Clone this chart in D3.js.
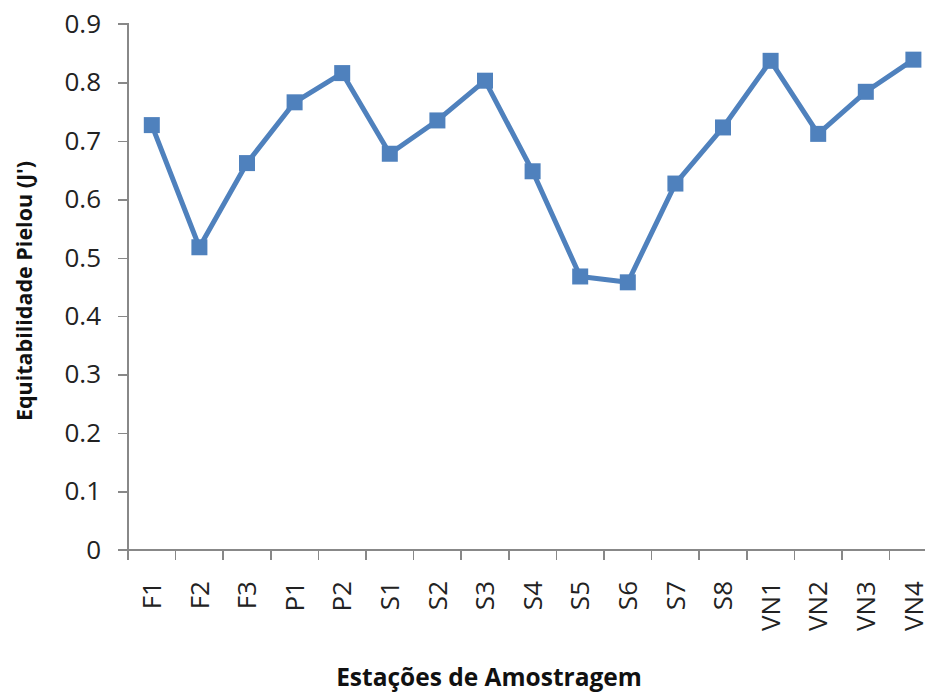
<!DOCTYPE html>
<html lang="pt">
<head>
<meta charset="UTF-8">
<title>Equitabilidade Pielou</title>
<style>
  body { margin: 0; background: #fff; }
  svg { display: block; }
  .axis text { font-family: 'Open Sans', sans-serif; font-size: 26px; fill: #222; }
  .axis path, .axis line { stroke: #888; stroke-width: 1.5; shape-rendering: crispEdges; }
  .title { font-family: 'Open Sans', sans-serif; font-weight: bold; fill: #111; }
</style>
</head>
<body>
<div id="chart"></div>
<script src="https://d3js.org/d3.v7.min.js"></script>
<script>
// estações de amostragem
const stations = ["F1", "F2", "F3", "P1", "P2", "S1", "S2", "S3", "S4",
                  "S5", "S6", "S7", "S8", "VN1", "VN2", "VN3", "VN4"];
// J' de Pielou
const pielou = [0.727, 0.518, 0.662, 0.766, 0.816, 0.678, 0.735, 0.803, 0.648,
                0.468, 0.458, 0.627, 0.723, 0.837, 0.712, 0.784, 0.839];
const yTicks = [0, 0.1, 0.2, 0.3, 0.4, 0.5, 0.6, 0.7, 0.8, 0.9];

const W = 925, H = 693;
const plotLeft = 128, plotTop = 24, plotBottom = 550;
const bandW = 47.6;

const svg = d3.select('#chart').append('svg')
    .attr('width', W).attr('height', H);

const x = d3.scaleBand()
    .domain(stations)
    .range([plotLeft, plotLeft + bandW * stations.length]);

const y = d3.scaleLinear()
    .domain([0, 0.9])
    .range([plotBottom, plotTop]);

// eixo y
svg.append('g')
    .attr('class', 'axis')
    .attr('transform', `translate(${plotLeft},0)`)
    .call(d3.axisLeft(y).tickValues(yTicks).tickSize(10).tickPadding(17)
        .tickFormat(d => d === 0 ? '0' : d3.format('.1f')(d)))
    .call(g => g.select('.domain').attr('d', `M-10,${plotTop}H0V${plotBottom}H-10`));

// eixo x - ticks nas fronteiras das categorias
const xAxis = svg.append('g')
    .attr('class', 'axis')
    .attr('transform', `translate(0,${plotBottom})`);

xAxis.append('line')
    .attr('x1', plotLeft).attr('x2', W)
    .attr('y1', 0).attr('y2', 0);

xAxis.selectAll('.tk')
    .data(stations)
    .enter().append('line')
    .attr('class', 'tk')
    .attr('x1', d => x(d)).attr('x2', d => x(d))
    .attr('y1', 0).attr('y2', 10);

xAxis.selectAll('.lbl')
    .data(stations)
    .enter().append('text')
    .attr('class', 'lbl')
    .attr('text-anchor', 'end')
    .attr('dy', '0.35em')
    .attr('transform', d => `translate(${x(d) + x.bandwidth() / 2},${31}) rotate(-90)`)
    .text(d => d);

// linha
const line = d3.line()
    .x((d, i) => x(stations[i]) + x.bandwidth() / 2)
    .y(d => y(d));

svg.append('path')
    .datum(pielou)
    .attr('fill', 'none')
    .attr('stroke', '#4F81BD')
    .attr('stroke-width', 5)
    .attr('stroke-linejoin', 'round')
    .attr('d', line);

const ms = 16;
svg.selectAll('.marker')
    .data(pielou)
    .enter().append('rect')
    .attr('class', 'marker')
    .attr('x', (d, i) => x(stations[i]) + x.bandwidth() / 2 - ms / 2)
    .attr('y', d => y(d) - ms / 2)
    .attr('width', ms).attr('height', ms)
    .attr('fill', '#4F81BD');

// títulos
svg.append('text')
    .attr('class', 'title')
    .attr('font-size', 21.5)
    .attr('text-anchor', 'middle')
    .attr('transform', `translate(32,291) rotate(-90)`)
    .text("Equitabilidade Pielou (J')");

svg.append('text')
    .attr('class', 'title')
    .attr('font-size', 24.5)
    .attr('text-anchor', 'middle')
    .attr('x', 489).attr('y', 686)
    .text('Estações de Amostragem');
</script>
</body>
</html>
